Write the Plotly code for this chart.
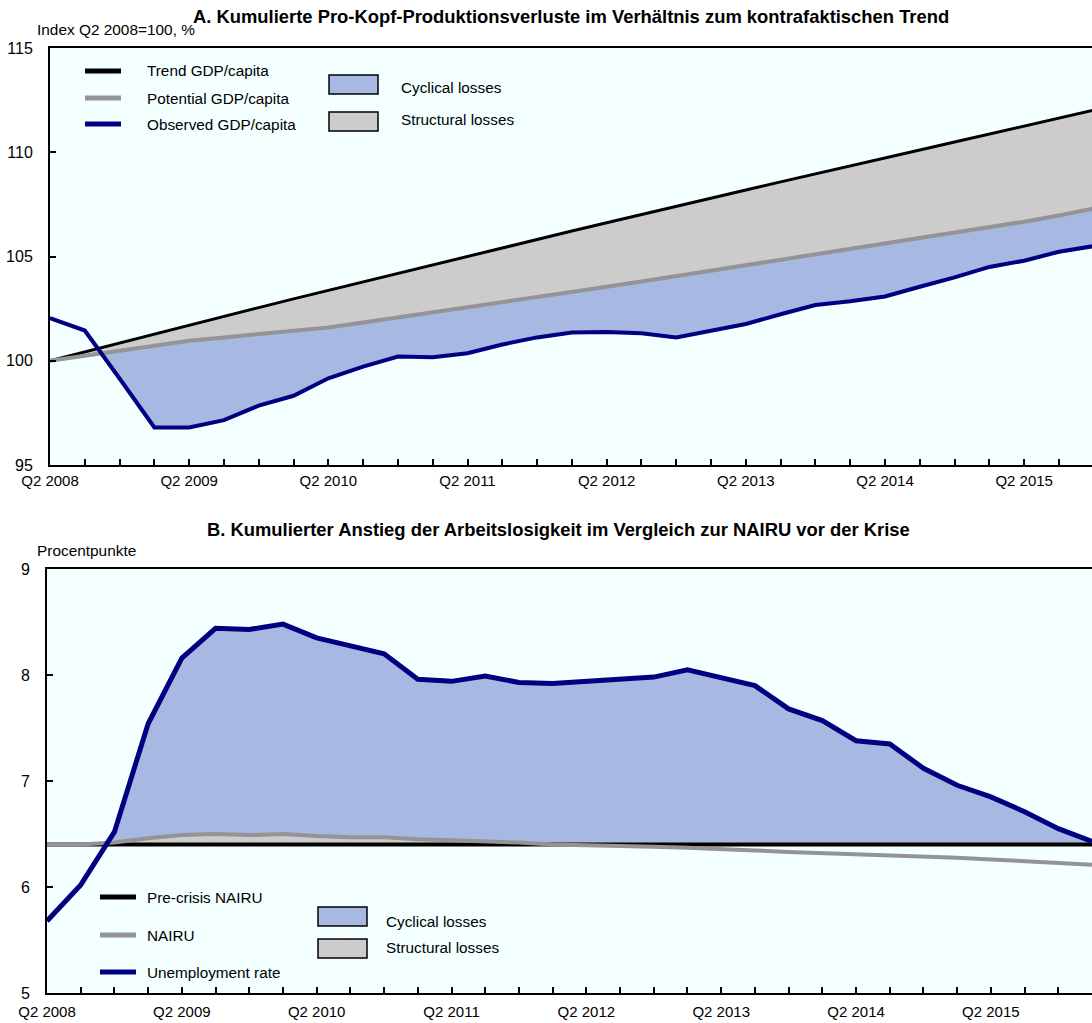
import numpy as np
import plotly.graph_objects as go

# ---------------------------------------------------------------------------
# Data
# ---------------------------------------------------------------------------
def quarter_labels(n, year=2008, q=2):
    out = []
    for _ in range(n):
        out.append(f"Q{q} {year}")
        q += 1
        if q > 4:
            q, year = 1, year + 1
    return out

# Panel A: GDP per capita, index Q2 2008 = 100 (Q2 2008 .. Q4 2015)
quarters_a = quarter_labels(31)
trend_gdp = [100.0, 100.43, 100.86, 101.29, 101.71, 102.13, 102.55, 102.97, 103.38, 103.79,
             104.2, 104.61, 105.02, 105.42, 105.82, 106.22, 106.62, 107.02, 107.41, 107.8,
             108.19, 108.58, 108.97, 109.35, 109.73, 110.11, 110.49, 110.87, 111.25, 111.63,
             112.02]
potential_gdp = [100.0, 100.25, 100.5, 100.74, 100.96, 101.12, 101.28, 101.44, 101.6, 101.83,
                 102.07, 102.32, 102.59, 102.83, 103.07, 103.3, 103.55, 103.8, 104.06, 104.32,
                 104.59, 104.84, 105.09, 105.34, 105.6, 105.86, 106.12, 106.39, 106.67, 106.97,
                 107.3]
observed_gdp = [102.05, 101.45, 99.15, 96.8, 96.8, 97.15, 97.85, 98.32, 99.16, 99.72,
                100.2, 100.17, 100.36, 100.78, 101.12, 101.35, 101.38, 101.32, 101.12, 101.43,
                101.76, 102.23, 102.67, 102.85, 103.08, 103.55, 104.0, 104.5, 104.8, 105.23,
                105.5]

# Panel B: unemployment and NAIRU, per cent (Q2 2008 .. Q1 2016)
quarters_b = quarter_labels(32)
pre_crisis_nairu = [6.4, 6.4, 6.4, 6.4, 6.4, 6.4, 6.4, 6.4, 6.4, 6.4, 6.4, 6.4, 6.4, 6.4, 6.4, 6.4,
                    6.4, 6.4, 6.4, 6.4, 6.4, 6.4, 6.4, 6.4, 6.4, 6.4, 6.4, 6.4, 6.4, 6.4, 6.4, 6.4]
nairu = [6.40, 6.40, 6.42, 6.46, 6.49, 6.50, 6.49, 6.50, 6.48, 6.47, 6.47, 6.45, 6.44, 6.43, 6.42,
         6.40, 6.395, 6.39, 6.38, 6.37, 6.36, 6.345, 6.33, 6.32, 6.31, 6.30, 6.29, 6.275, 6.26,
         6.245, 6.23, 6.21]
unemployment = [5.68, 6.02, 6.52, 7.54, 8.16, 8.44, 8.43, 8.48, 8.35, 8.28, 8.2, 7.96, 7.94, 7.99,
                7.93, 7.92, 7.94, 7.96, 7.98, 8.05, 7.98, 7.9, 7.68, 7.57, 7.38, 7.35, 7.12, 6.96,
                6.85, 6.71, 6.55, 6.43]

# ---------------------------------------------------------------------------
# Style
# ---------------------------------------------------------------------------
W, H = 1092, 1023
FONT = "Liberation Sans, Arial, sans-serif"
NAVY = "#000080"
GREY_LINE = "#949494"
BLUE_FILL = "#A7B8E2"
GREY_FILL = "#CCCCCC"
PLOT_BG = "#F4FFFF"
TICK_SIZE = 15
LEGEND_SIZE = 15.3
TITLE_SIZE = 18.4


def px_x(v):
    return v / W


def px_y(v):
    return 1 - v / H


def with_crossings(x, a, b):
    """Grid of x with the points where series a and b cross added."""
    x = np.asarray(x, float)
    a = np.asarray(a, float)
    b = np.asarray(b, float)
    d = a - b
    extra = []
    for i in range(len(x) - 1):
        if d[i] * d[i + 1] < 0:
            t = d[i] / (d[i] - d[i + 1])
            extra.append(x[i] + t * (x[i + 1] - x[i]))
    return np.sort(np.concatenate([x, extra]))


fig = go.Figure()

# ---------------------------------------------------------------------------
# Panel A
# ---------------------------------------------------------------------------
xa = np.arange(len(quarters_a), dtype=float)
ga = with_crossings(xa, observed_gdp, potential_gdp)
trend_g = np.interp(ga, xa, trend_gdp)
pot_g = np.interp(ga, xa, potential_gdp)
obs_g = np.interp(ga, xa, observed_gdp)

# structural losses: trend above potential
fig.add_trace(go.Scatter(x=ga, y=pot_g, mode="lines", line=dict(width=0),
                         hoverinfo="skip", showlegend=False, xaxis="x", yaxis="y"))
fig.add_trace(go.Scatter(x=ga, y=trend_g, mode="lines", line=dict(width=0),
                         fill="tonexty", fillcolor=GREY_FILL, hoverinfo="skip",
                         showlegend=False, xaxis="x", yaxis="y"))
# cyclical losses: observed below potential
fig.add_trace(go.Scatter(x=ga, y=np.minimum(obs_g, pot_g), mode="lines", line=dict(width=0),
                         hoverinfo="skip", showlegend=False, xaxis="x", yaxis="y"))
fig.add_trace(go.Scatter(x=ga, y=pot_g, mode="lines", line=dict(width=0),
                         fill="tonexty", fillcolor=BLUE_FILL, hoverinfo="skip",
                         showlegend=False, xaxis="x", yaxis="y"))

fig.add_trace(go.Scatter(x=xa, y=trend_gdp, mode="lines", name="Trend GDP/capita",
                         line=dict(color="black", width=3), showlegend=False,
                         xaxis="x", yaxis="y"))
fig.add_trace(go.Scatter(x=xa, y=potential_gdp, mode="lines", name="Potential GDP/capita",
                         line=dict(color=GREY_LINE, width=4), showlegend=False,
                         xaxis="x", yaxis="y"))
fig.add_trace(go.Scatter(x=xa, y=observed_gdp, mode="lines", name="Observed GDP/capita",
                         line=dict(color=NAVY, width=4), showlegend=False,
                         xaxis="x", yaxis="y"))

# ---------------------------------------------------------------------------
# Panel B
# ---------------------------------------------------------------------------
xb = np.arange(len(quarters_b), dtype=float)
gb1 = with_crossings(xb, nairu, pre_crisis_nairu)
floor1 = np.maximum(np.interp(gb1, xb, nairu), np.interp(gb1, xb, pre_crisis_nairu))
gb = with_crossings(gb1, np.interp(gb1, xb, unemployment), floor1)
pre_g = np.interp(gb, xb, pre_crisis_nairu)
nairu_g = np.interp(gb, xb, nairu)
u_g = np.interp(gb, xb, unemployment)
floor_g = np.maximum(nairu_g, pre_g)

# structural losses: NAIRU above its pre-crisis level
fig.add_trace(go.Scatter(x=gb, y=pre_g, mode="lines", line=dict(width=0),
                         hoverinfo="skip", showlegend=False, xaxis="x2", yaxis="y2"))
fig.add_trace(go.Scatter(x=gb, y=floor_g, mode="lines", line=dict(width=0),
                         fill="tonexty", fillcolor=GREY_FILL, hoverinfo="skip",
                         showlegend=False, xaxis="x2", yaxis="y2"))
# cyclical losses: unemployment above the NAIRU
fig.add_trace(go.Scatter(x=gb, y=floor_g, mode="lines", line=dict(width=0),
                         hoverinfo="skip", showlegend=False, xaxis="x2", yaxis="y2"))
fig.add_trace(go.Scatter(x=gb, y=np.maximum(u_g, floor_g), mode="lines", line=dict(width=0),
                         fill="tonexty", fillcolor=BLUE_FILL, hoverinfo="skip",
                         showlegend=False, xaxis="x2", yaxis="y2"))

fig.add_trace(go.Scatter(x=xb, y=pre_crisis_nairu, mode="lines", name="Pre-crisis NAIRU",
                         line=dict(color="black", width=4), showlegend=False,
                         xaxis="x2", yaxis="y2"))
fig.add_trace(go.Scatter(x=xb, y=nairu, mode="lines", name="NAIRU",
                         line=dict(color=GREY_LINE, width=4), showlegend=False,
                         xaxis="x2", yaxis="y2"))
fig.add_trace(go.Scatter(x=xb, y=unemployment, mode="lines", name="Unemployment rate",
                         line=dict(color=NAVY, width=5), showlegend=False,
                         xaxis="x2", yaxis="y2"))

# ---------------------------------------------------------------------------
# Axes
# ---------------------------------------------------------------------------
def x_axis(labels, domain, rng, anchor, standoff):
    return dict(
        domain=domain, range=rng, anchor=anchor,
        tickmode="array", tickvals=list(range(len(labels))),
        ticktext=[lab if lab.startswith("Q2") else "" for lab in labels],
        ticks="inside", ticklen=6, tickwidth=1.5, tickcolor="black",
        showline=True, linecolor="black", linewidth=2, mirror=True,
        showgrid=True, gridcolor="white", gridwidth=1, zeroline=False,
        ticklabelstandoff=standoff,
        tickfont=dict(family=FONT, size=TICK_SIZE, color="black"),
        fixedrange=True,
    )


def y_axis(domain, rng, dtick, anchor):
    return dict(
        domain=domain, range=rng, anchor=anchor, dtick=dtick, tick0=rng[0],
        ticks="inside", ticklen=6, tickwidth=1.5, tickcolor="black",
        showline=True, linecolor="black", linewidth=2,
        showgrid=False, zeroline=False, ticklabelstandoff=12,
        tickfont=dict(family=FONT, size=TICK_SIZE + 1, color="black"),
        fixedrange=True,
    )


fig.update_layout(
    width=W, height=H,
    margin=dict(l=0, r=0, t=0, b=0, autoexpand=False),
    paper_bgcolor="white", plot_bgcolor=PLOT_BG,
    showlegend=False,
    font=dict(family=FONT, size=TICK_SIZE, color="black"),
    xaxis=x_axis(quarters_a, [px_x(50), 1.0], [0, 29.95], "y", 1),
    yaxis=y_axis([px_y(465), px_y(48)], [95, 115], 5, "x"),
    xaxis2=x_axis(quarters_b, [px_x(47), 1.0], [0, 31], "y2", 4),
    yaxis2=y_axis([px_y(993), px_y(569)], [5, 9], 1, "x2"),
)

# ---------------------------------------------------------------------------
# Titles and unit labels
# ---------------------------------------------------------------------------
annotations = [
    dict(text="<b>A. Kumulierte Pro-Kopf-Produktionsverluste im Verhältnis zum kontrafaktischen Trend</b>",
         x=px_x(571), y=px_y(17), xanchor="center", yanchor="middle", font=dict(size=TITLE_SIZE)),
    dict(text="Index Q2 2008=100, %", x=px_x(35), y=px_y(30), xanchor="left",
         yanchor="middle", font=dict(size=15.4)),
    dict(text="<b>B. Kumulierter Anstieg der Arbeitslosigkeit im Vergleich zur NAIRU vor der Krise</b>",
         x=px_x(558), y=px_y(529), xanchor="center", yanchor="middle", font=dict(size=TITLE_SIZE)),
    dict(text="Procentpunkte", x=px_x(35), y=px_y(550), xanchor="left",
         yanchor="middle", font=dict(size=15.4)),
]

shapes = []


def legend_line(x0, x1, y, color, width, text, tx):
    shapes.append(dict(type="line", xref="paper", yref="paper",
                       x0=px_x(x0), x1=px_x(x1), y0=px_y(y), y1=px_y(y),
                       line=dict(color=color, width=width)))
    annotations.append(dict(text=text, x=px_x(tx), y=px_y(y), xanchor="left",
                            yanchor="middle", font=dict(size=LEGEND_SIZE)))


def legend_box(x0, x1, y0, y1, color, text, tx, ty):
    shapes.append(dict(type="rect", xref="paper", yref="paper",
                       x0=px_x(x0), x1=px_x(x1), y0=px_y(y1), y1=px_y(y0),
                       fillcolor=color, line=dict(color="black", width=1.5)))
    annotations.append(dict(text=text, x=px_x(tx), y=px_y(ty), xanchor="left",
                            yanchor="middle", font=dict(size=LEGEND_SIZE)))


# Panel A legend
legend_line(85, 121, 71, "black", 5, "Trend GDP/capita", 145)
legend_line(85, 121, 98, GREY_LINE, 5, "Potential GDP/capita", 145)
legend_line(85, 121, 124, NAVY, 5, "Observed GDP/capita", 145)
legend_box(329, 378, 75, 94, BLUE_FILL, "Cyclical losses", 399, 87)
legend_box(329, 378, 112, 131, GREY_FILL, "Structural losses", 399, 119)

# Panel B legend
legend_line(100, 136, 897, "black", 5, "Pre-crisis NAIRU", 145)
legend_line(100, 136, 935, GREY_LINE, 5, "NAIRU", 145)
legend_line(100, 136, 972, NAVY, 5, "Unemployment rate", 145)
legend_box(318, 367, 907, 926, BLUE_FILL, "Cyclical losses", 384, 921)
legend_box(318, 367, 939, 958, GREY_FILL, "Structural losses", 384, 947)

for a in annotations:
    a.update(xref="paper", yref="paper", showarrow=False)
    a.setdefault("font", {})
    a["font"].update(family=FONT, color="black")

fig.update_layout(annotations=annotations, shapes=shapes)

fig.write_html("out.html")
